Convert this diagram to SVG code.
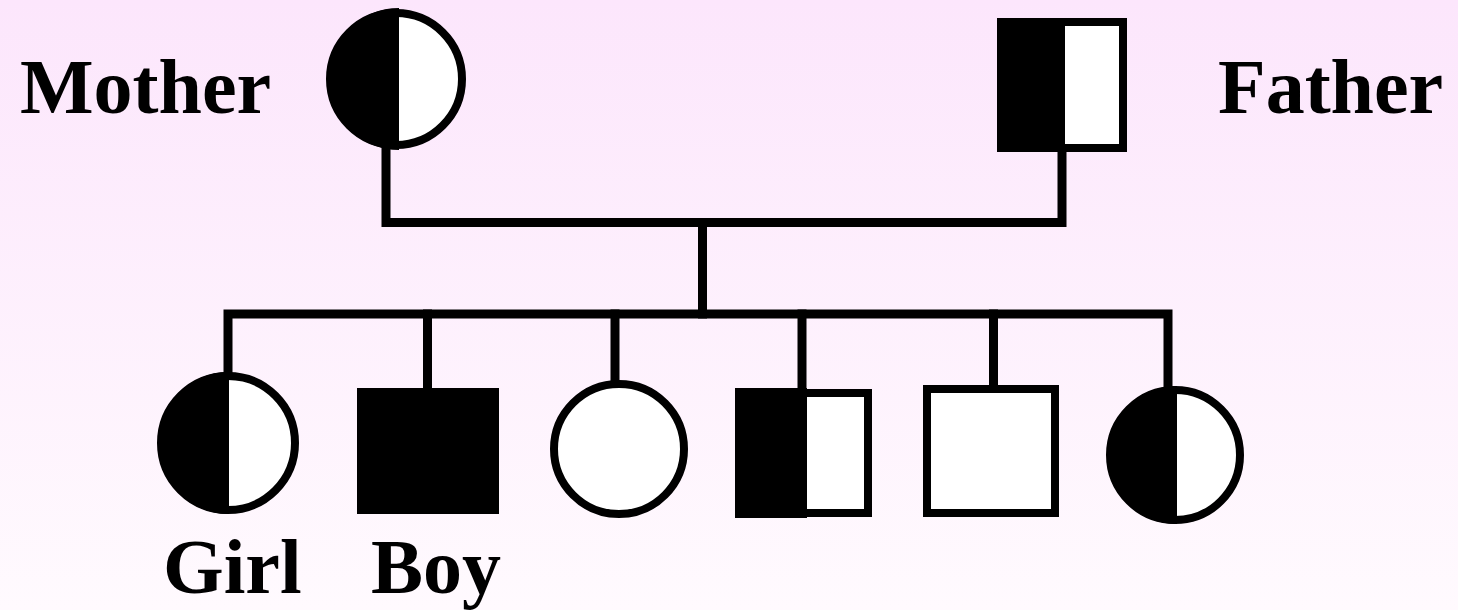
<svg xmlns="http://www.w3.org/2000/svg" width="1458" height="610" viewBox="0 0 1458 610">
<defs>
<linearGradient id="bg" x1="0" y1="0" x2="0" y2="1">
<stop offset="0" stop-color="#FCE6FC"/>
<stop offset="1" stop-color="#FFFAFE"/>
</linearGradient>
<style>
.lbl{font-family:"Liberation Serif","Times New Roman",serif;font-weight:bold;font-size:78px;fill:#000}
.ln{stroke:#000;stroke-width:9;fill:none;stroke-linecap:square}
.sym{stroke:#000;stroke-width:8;fill:#FFFFFF}
.blk{fill:#000}
</style>
</defs>
<rect x="0" y="0" width="1458" height="610" fill="url(#bg)"/>
<g id="connectors">
<path class="ln" d="M386,148 V222.5 H1062 V152"/>
<path class="ln" d="M702.5,222.5 V314"/>
<path class="ln" d="M228,372 V314 H1168 V388"/>
<path class="ln" d="M427.5,314 V388"/>
<path class="ln" d="M615,314 V380"/>
<path class="ln" d="M802,314 V388"/>
<path class="ln" d="M993.5,314 V384"/>
</g>
<g id="mother">
<circle class="sym" cx="396" cy="79" r="66"/>
<path class="blk" d="M399,8 A71,71 0 0 0 399,150 Z"/>
<text class="lbl" x="20" y="113">Mother</text>
</g>
<g id="father">
<rect class="sym" x="1001" y="22" width="122" height="126"/>
<rect class="blk" x="997" y="18" width="68" height="134"/>
<text class="lbl" x="1218" y="113">Father</text>
</g>
<g id="girl">
<circle class="sym" cx="228" cy="443" r="67"/>
<path class="blk" d="M229,372 A71,71 0 0 0 229,514 Z"/>
<text class="lbl" x="163" y="593">Girl</text>
</g>
<g id="boy">
<rect class="blk" x="357" y="388" width="142" height="126"/>
<text class="lbl" x="371" y="593">Boy</text>
</g>
<g id="child3">
<circle class="sym" cx="619" cy="449" r="65" stroke-width="9"/>
</g>
<g id="child4">
<rect class="sym" x="740" y="393" width="128" height="120" stroke-width="10"/>
<rect class="blk" x="735" y="388" width="72" height="130"/>
</g>
<g id="child5">
<rect class="sym" x="927" y="389" width="128" height="124" stroke-width="10"/>
</g>
<g id="child6">
<circle class="sym" cx="1175" cy="455" r="65"/>
<path class="blk" d="M1177,386 A69,69 0 0 0 1177,524 Z"/>
</g>
</svg>
